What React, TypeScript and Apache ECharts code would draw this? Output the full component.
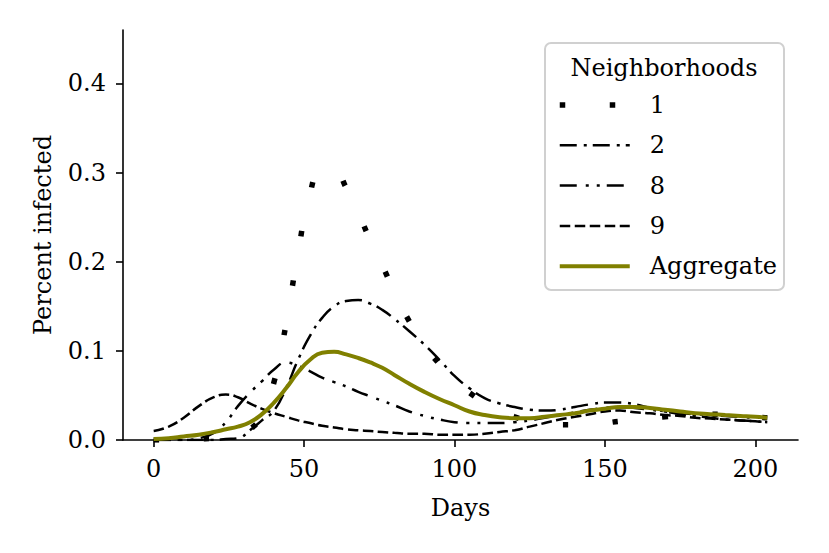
import React, { useEffect, useRef } from "react";
import * as echarts from "echarts";

const days = [0, 5, 10, 15, 20, 24, 28, 32, 36, 40, 44, 48, 52, 56, 60, 64, 68, 72, 76, 80, 85, 90, 95, 100, 105, 110, 115, 120, 125, 130, 135, 140, 145, 150, 155, 160, 165, 170, 175, 180, 185, 190, 195, 200, 204];

const hood1 = [0.0, 0.0, 0.0, 0.001, 0.002, 0.004, 0.007, 0.012, 0.028, 0.065, 0.13, 0.21, 0.277, 0.304, 0.303, 0.283, 0.255, 0.224, 0.196, 0.166, 0.133, 0.106, 0.085, 0.066, 0.053, 0.042, 0.033, 0.026, 0.021, 0.018, 0.017, 0.017, 0.018, 0.019, 0.021, 0.022, 0.024, 0.026, 0.027, 0.028, 0.029, 0.029, 0.028, 0.026, 0.025];

const hood2 = [0.0, 0.0, 0.0, 0.0, 0.0, 0.001, 0.002, 0.011, 0.022, 0.033, 0.058, 0.09, 0.117, 0.137, 0.15, 0.156, 0.157, 0.153, 0.146, 0.136, 0.122, 0.107, 0.09, 0.072, 0.058, 0.047, 0.041, 0.037, 0.034, 0.033, 0.034, 0.037, 0.04, 0.042, 0.042, 0.04, 0.036, 0.032, 0.029, 0.027, 0.025, 0.023, 0.022, 0.021, 0.02];

const hood8 = [0.0, 0.0, 0.0, 0.002, 0.008, 0.02, 0.038, 0.053, 0.066, 0.079, 0.087, 0.083, 0.077, 0.07, 0.065, 0.06, 0.054, 0.049, 0.044, 0.039, 0.032, 0.027, 0.023, 0.02, 0.019, 0.019, 0.019, 0.02, 0.022, 0.025, 0.028, 0.031, 0.034, 0.036, 0.037, 0.036, 0.034, 0.032, 0.03, 0.029, 0.028, 0.027, 0.026, 0.025, 0.025];

const hood9 = [0.01, 0.015, 0.025, 0.038, 0.048, 0.051, 0.048, 0.041, 0.035, 0.03, 0.026, 0.022, 0.019, 0.016, 0.014, 0.012, 0.011, 0.01, 0.009, 0.008, 0.007, 0.007, 0.006, 0.006, 0.006, 0.007, 0.009, 0.011, 0.015, 0.019, 0.023, 0.026, 0.029, 0.032, 0.033, 0.031, 0.03, 0.028, 0.027, 0.025, 0.024, 0.023, 0.022, 0.021, 0.02];

const aggregate = [0.001, 0.002, 0.004, 0.006, 0.009, 0.012, 0.015, 0.02, 0.029, 0.042, 0.058, 0.076, 0.09, 0.098, 0.099, 0.096, 0.092, 0.087, 0.081, 0.073, 0.063, 0.054, 0.046, 0.039, 0.032, 0.028, 0.0255, 0.0245, 0.0245, 0.026, 0.028, 0.03, 0.033, 0.035, 0.037, 0.037, 0.036, 0.034, 0.032, 0.03, 0.029, 0.028, 0.027, 0.026, 0.025];

const xTicks = [0, 50, 100, 150, 200];
const yTicks = [0, 0.1, 0.2, 0.3, 0.4];
const legendNames = ["1", "2", "8", "9", "Aggregate"];

export default function App() {
  const ref = useRef<HTMLDivElement>(null);

  useEffect(() => {
    const chart = echarts.init(ref.current!, null, { renderer: "svg" });
    const font = "'DejaVu Serif', 'Liberation Serif', serif";
    const axisCol = "#000";

    const styles: Record<string, any> = {
      "1": { color: "#000", width: 5.5, type: [5.5, 44.5], cap: "butt" },
      "2": { color: "#000", width: 2.5, type: [17, 7, 3, 6], cap: "butt" },
      "8": { color: "#000", width: 2.5, type: [17, 9, 3, 8, 3, 7], cap: "butt" },
      "9": { color: "#000", width: 2.5, type: [10.5, 4.5], cap: "butt" },
      Aggregate: { color: "#808000", width: 4 },
    };
    const seriesData: Record<string, number[]> = {
      "1": hood1,
      "2": hood2,
      "8": hood8,
      "9": hood9,
      Aggregate: aggregate,
    };

    const mk = (name: string) => ({
      type: "line",
      name,
      data: days.map((d, i) => [d, seriesData[name][i]]),
      smooth: true,
      symbol: "none",
      showSymbol: false,
      z: name === "Aggregate" ? 3 : 2,
      lineStyle: styles[name],
      itemStyle: { color: styles[name].color },
      emphasis: { disabled: true },
    });

    chart.setOption({
      animation: false,
      backgroundColor: "#fff",
      grid: { left: 123, right: 31, top: 30, bottom: 113, containLabel: false },
      xAxis: {
        type: "value",
        min: -10.2,
        max: 214.2,
        name: "Days",
        nameLocation: "middle",
        nameGap: 56,
        nameTextStyle: { fontFamily: font, fontSize: 24, color: "#000" },
        splitLine: { show: false },
        axisLine: { onZero: false, lineStyle: { color: axisCol, width: 1.6 } },
        axisTick: { customValues: xTicks, length: 7, lineStyle: { color: axisCol, width: 1.6 } },
        axisLabel: {
          customValues: xTicks,
          margin: 17,
          fontFamily: font,
          fontSize: 24,
          color: "#000",
        },
      },
      yAxis: {
        type: "value",
        min: 0,
        max: 0.46,
        name: "Percent infected",
        nameLocation: "middle",
        nameGap: 68,
        nameTextStyle: { fontFamily: font, fontSize: 24, color: "#000" },
        splitLine: { show: false },
        axisLine: { show: true, onZero: false, lineStyle: { color: axisCol, width: 1.6 } },
        axisTick: { show: true, customValues: yTicks, length: 7, lineStyle: { color: axisCol, width: 1.6 } },
        axisLabel: {
          customValues: yTicks,
          margin: 17,
          fontFamily: font,
          fontSize: 24,
          color: "#000",
          formatter: (v: number) => v.toFixed(1),
        },
      },
      legend: {
        orient: "vertical",
        left: 557,
        top: 92,
        padding: 0,
        itemWidth: 70,
        itemHeight: 14,
        itemGap: 14.3,
        z: 6,
        itemStyle: { opacity: 0 },
        data: legendNames.map((n) => ({
          name: n,
          itemStyle: { opacity: 0 },
          lineStyle: styles[n],
        })),
        textStyle: {
          fontFamily: font,
          fontSize: 24,
          color: "#000",
          lineHeight: 26,
          padding: [0, 0, 0, 15],
        },
      },
      graphic: [
        {
          type: "rect",
          z: 5,
          shape: { x: 545, y: 43, width: 239, height: 247, r: 6 },
          style: { fill: "rgba(255,255,255,0.85)", stroke: "#d0d0d0", lineWidth: 2 },
        },
        {
          type: "text",
          z: 6,
          x: 664,
          y: 68,
          style: {
            text: "Neighborhoods",
            fontFamily: font,
            fontSize: 24,
            fill: "#000",
            textAlign: "center",
            textVerticalAlign: "middle",
          },
        },
      ],
      series: legendNames.map(mk),
    });

    return () => chart.dispose();
  }, []);

  return (
    <div
      ref={ref}
      style={{ position: "fixed", left: 0, top: 0, width: 829, height: 553 }}
    />
  );
}
